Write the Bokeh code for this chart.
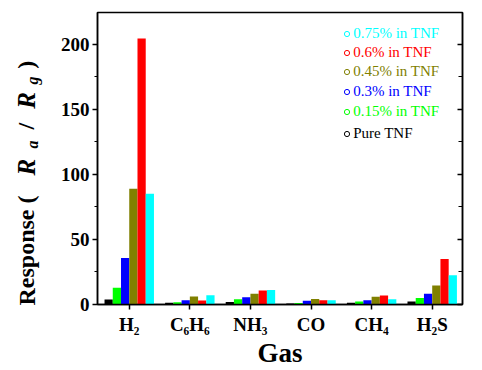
from bokeh.plotting import figure
from bokeh.models import (Range1d, LinearAxis, SingleIntervalTicker, FixedTicker,
                          Legend, LegendItem, Label, CustomJSTickFormatter)
from bokeh.embed import file_html
from bokeh.resources import INLINE

# ---------------- data ----------------
gases = ["H₂", "C₆H₆", "NH₃", "CO", "CH₄", "H₂S"]
series = ["Pure TNF", "0.15% in TNF", "0.3% in TNF", "0.45% in TNF", "0.6% in TNF", "0.75% in TNF"]
colors = ["#000000", "#00ff00", "#0000ff", "#808000", "#ff0000", "#00ffff"]
pure_tnf = [3.8, 1.3, 2.0, 0.8, 1.3, 2.3]
tnf_015 = [12.8, 1.8, 4.1, 1.1, 2.3, 5.0]
tnf_03 = [35.8, 3.3, 5.6, 2.8, 3.3, 8.2]
tnf_045 = [88.9, 6.1, 8.2, 4.3, 5.9, 14.6]
tnf_06 = [204.3, 3.1, 10.7, 3.3, 6.9, 35.0]
tnf_075 = [85.0, 7.2, 11.2, 3.3, 4.1, 22.4]
values = [pure_tnf, tnf_015, tnf_03, tnf_045, tnf_06, tnf_075]

FONT = "Liberation Serif"
W, H = 482, 370
FL, FT, FR, FB = 97, 12, 462, 305   # frame edges on the page

p = figure(width=W, height=H, output_backend="svg", toolbar_location=None,
           x_range=Range1d(0.476, 6.5), y_range=Range1d(0, 224.3),
           min_border_left=FL, min_border_right=W - FR, min_border_top=FT,
           min_border_bottom=H - FB)
p.xgrid.visible = False
p.ygrid.visible = False
p.outline_line_color = "black"
p.outline_line_width = 1.5
p.background_fill_color = "white"
p.border_fill_color = "white"

gx = list(range(1, len(gases) + 1))
bar_w = 0.136
for j, (c, vals) in enumerate(zip(colors, values)):
    off = (j - 2.5) * bar_w
    p.vbar(x=[g + off for g in gx], top=vals, bottom=0, width=bar_w,
           fill_color=c, line_color=None)

# x axis
xa = p.xaxis[0]
xa.ticker = FixedTicker(ticks=gx)
xa.major_label_overrides = {g: lab for g, lab in zip(gx, gases)}
xa.major_tick_out = 5
xa.major_tick_in = 0
xa.minor_tick_out = 0
xa.minor_tick_in = 0
xa.major_label_text_font = FONT
xa.major_label_text_font_style = "bold"
xa.major_label_text_font_size = "19px"
xa.major_label_text_color = "black"
xa.major_label_standoff = 4
xa.axis_line_width = 1.5
xa.axis_line_color = "black"
xa.major_tick_line_width = 1.5
xa.axis_label = "Gas"
xa.axis_label_text_font = FONT
xa.axis_label_text_font_style = "bold"
xa.axis_label_text_font_size = "27px"
xa.axis_label_text_color = "black"
xa.axis_label_standoff = 0

# y axis
ya = p.yaxis[0]
ya.ticker = SingleIntervalTicker(interval=50, num_minor_ticks=2)
ya.major_tick_out = 5
ya.major_tick_in = 0
ya.minor_tick_out = 3
ya.minor_tick_in = 0
ya.major_label_text_font = FONT
ya.major_label_text_font_style = "bold"
ya.major_label_text_font_size = "19px"
ya.major_label_text_color = "black"
ya.major_label_standoff = 3
ya.axis_line_width = 1.5
ya.major_tick_line_width = 1.5

ry = LinearAxis(ticker=SingleIntervalTicker(interval=50, num_minor_ticks=2),
                major_tick_in=5, major_tick_out=0, minor_tick_in=4, minor_tick_out=0,
                formatter=CustomJSTickFormatter(code="return ''"),
                major_label_standoff=0,
                axis_line_width=1.5, major_tick_line_width=1.5)
p.add_layout(ry, "right")

# y axis title "Response (R_a/R_g)": three rotated labels (upright, italic R's,
# italic subscripts); canvas units are page pixels. Non-breaking spaces keep gaps.
NB = "\u00a0"


def ylab(text, page_x, page_y, size, style, side):
    p.add_layout(Label(x=page_x, y=page_y, x_units="canvas", y_units="canvas",
                       text=text, angle=1.5708, text_align="left", text_baseline="alphabetic",
                       text_font=FONT, text_font_style=style, text_font_size=size,
                       text_color="black"), side)


ylab("Response" + NB + "(" + NB * 11 + "/" + NB * 9 + ")", 26, 305, "24px", "bold", "left")
ylab("R" + NB * 8 + "R", 26, 175, "25px", "bold italic", "left")
ylab("a" + NB * 14 + "g", 32, 148, "16px", "bold italic", "right")

# legend: one legend per series so each label takes its series colour
row_y = {5: 35.0, 4: 54.0, 3: 73.0, 2: 93.0, 1: 112.7, 0: 135.0}
lh = 16
gw = 13
for j, (name, c, vals) in enumerate(zip(series, colors, values)):
    r = p.scatter(x=gx, y=vals, marker="circle", size=8, fill_alpha=0,
                  line_color=c, line_width=1, muted=True,
                  muted_line_alpha=0, muted_fill_alpha=0)
    leg = Legend(items=[LegendItem(label=name, renderers=[r])],
                 location=(346.7 - gw / 2 - FL, (FB - row_y[j]) - lh / 2),
                 border_line_alpha=0, background_fill_alpha=0,
                 padding=0, margin=0, spacing=0,
                 glyph_width=gw, glyph_height=gw, label_standoff=-3, label_height=lh,
                 label_text_font=FONT, label_text_font_size="15px",
                 label_text_color=c, label_text_baseline="middle")
    p.add_layout(leg)

open("out.html", "w").write(file_html(p, INLINE))
